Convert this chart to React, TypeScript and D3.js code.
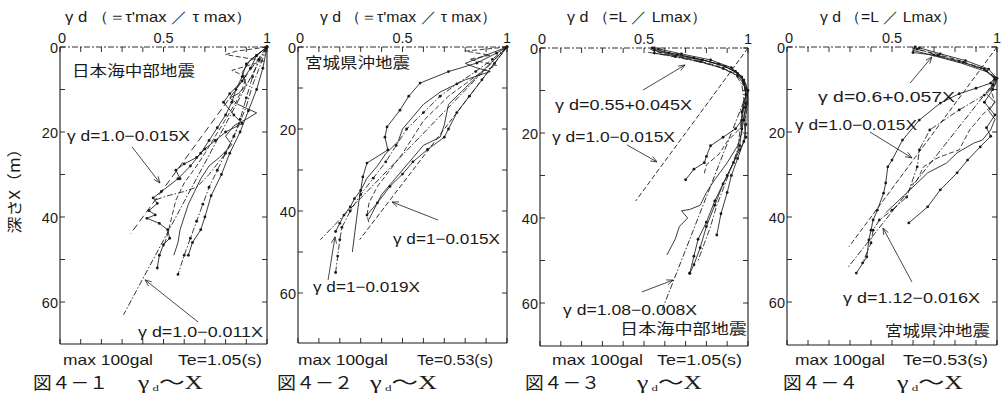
import React from "react";
import * as d3 from "d3";

type Pt = [number, number]; // [gamma_d, depth X (m)]

// ---------- DATA ----------
const xTickValues = [0, 0.1, 0.2, 0.3, 0.4, 0.5, 0.6, 0.7, 0.8, 0.9, 1];
const xTickLabels = ["0", "0.5", "1"];
const yTickValues = [0, 10, 20, 30, 40, 50, 60];
const yTickLabels = [0, 20, 40, 60];

// Fig 4-1 : Nihonkai-chubu, stress ratio
const p1_a: Pt[] = [[1,0],[0.95,2],[0.9,4],[0.88,7],[0.85,10],[0.83,13],[0.8,16],[0.76,19],[0.72,22],[0.68,25],[0.63,28],[0.57,31],[0.49,34],[0.45,35.5],[0.47,36.8],[0.43,38.5],[0.46,39.5],[0.42,40.3],[0.48,41.5],[0.52,43],[0.53,45],[0.5,46.5],[0.48,49],[0.47,52]];
const p1_b: Pt[] = [[1,0],[0.96,3],[0.93,7],[0.9,12],[0.87,17],[0.84,21],[0.8,25],[0.76,29],[0.72,33],[0.69,37],[0.66,41],[0.63,45],[0.6,49],[0.57,53.5]];
const p1_c: Pt[] = [[1,0],[0.92,3],[0.88,6],[0.9,9],[0.86,11],[0.82,12],[0.86,13.5],[0.95,15.5],[0.9,17],[0.84,18.5],[0.8,21],[0.83,23],[0.77,26],[0.72,28],[0.68,31],[0.65,34],[0.62,37],[0.6,40],[0.58,43],[0.57,46],[0.55,49]];
const p1_d: Pt[] = [[1,0],[0.85,1],[0.8,1.8],[0.9,2.6],[0.99,3.2],[0.92,4.2],[0.83,5.5],[0.9,7],[0.88,10],[0.85,13],[0.8,17],[0.75,21],[0.7,25],[0.66,28],[0.6,32],[0.56,36],[0.54,40],[0.52,44],[0.5,47]];
const p1_e: Pt[] = [[1,0],[0.95,2],[0.92,5],[0.88,8],[0.82,11],[0.79,13],[0.84,16],[0.88,18],[0.8,20],[0.75,22],[0.7,24],[0.66,26],[0.6,27.5],[0.56,29],[0.58,31]];
const p1_f: Pt[] = [[1,0],[0.97,4],[0.93,9],[0.9,14],[0.85,20],[0.8,25],[0.72,30],[0.66,33],[0.6,34],[0.52,35],[0.46,36]];
const p1_g: Pt[] = [[1,0],[0.98,5],[0.95,10],[0.91,15],[0.87,20],[0.82,25],[0.78,30],[0.73,35],[0.7,40],[0.68,43],[0.64,46],[0.62,49]];

// Fig 4-2 : Miyagiken-oki, stress ratio
const p2_a: Pt[] = [[1,0],[0.95,1.5],[0.856,3.9],[0.72,6],[0.584,8.8],[0.53,12],[0.488,15.4],[0.426,19.5],[0.416,22],[0.43,25.1],[0.33,28.3],[0.31,31.7],[0.3,35],[0.27,37],[0.25,39],[0.22,41],[0.2,43],[0.18,45]];
const p2_b: Pt[] = [[1,0],[0.93,3],[0.85,6],[0.76,9],[0.68,12],[0.6,16],[0.52,20],[0.47,24],[0.42,28],[0.36,32],[0.3,36],[0.25,40],[0.21,44],[0.2,47],[0.19,51],[0.18,55]];
const p2_c: Pt[] = [[1,0],[0.9,2],[0.8,4],[0.85,5],[0.92,6],[0.8,8],[0.68,11],[0.6,14],[0.55,17],[0.5,20],[0.48,23],[0.42,26],[0.38,29],[0.33,32],[0.3,35],[0.29,38],[0.28,42],[0.27,46],[0.26,50]];
const p2_d: Pt[] = [[1,0],[0.8,1],[0.92,2],[0.82,3],[0.95,4.5],[0.88,6],[0.8,9],[0.72,12],[0.66,15],[0.6,18],[0.55,22],[0.5,26],[0.44,30],[0.38,34],[0.34,38],[0.33,41],[0.34,43]];
const p2_e: Pt[] = [[1,0],[0.9,5],[0.8,10],[0.72,14],[0.7,19],[0.68,22],[0.6,24],[0.55,27],[0.5,30],[0.45,33],[0.4,36],[0.36,40],[0.34,42]];
const p2_f: Pt[] = [[1,0],[0.94,4],[0.88,8],[0.82,12],[0.76,16],[0.72,20],[0.7,22],[0.62,25],[0.55,28],[0.5,31],[0.44,34],[0.38,38],[0.33,41]];

// Fig 4-3 : Nihonkai-chubu, L / Lmax
const p3_a: Pt[] = [[0.55,0],[0.55,1.2],[0.65,2],[0.77,3.2],[0.88,4.8],[0.95,6.5],[0.98,8.5],[0.99,11],[0.98,14],[0.97,17],[0.94,19],[0.88,21],[0.82,23],[0.8,25.5],[0.79,27],[0.74,28.5],[0.7,31]];
const p3_b: Pt[] = [[0.53,0.3],[0.6,1.5],[0.72,2.5],[0.84,4],[0.93,5.8],[0.97,7.5],[0.99,10],[1,13],[0.99,16],[0.96,19],[0.9,22],[0.86,25],[0.8,27.5],[0.79,29.5]];
const p3_c: Pt[] = [[0.56,0.8],[0.66,1.8],[0.8,3],[0.9,4.5],[0.96,6.2],[0.99,8.5],[1,12],[0.98,16],[0.97,20],[0.95,23],[0.9,27],[0.84,31],[0.8,34],[0.77,37],[0.72,38],[0.68,38.3],[0.71,40],[0.67,42],[0.65,45],[0.61,48.7]];
const p3_d: Pt[] = [[0.54,0],[0.62,1.2],[0.74,2.3],[0.86,3.8],[0.94,5.5],[0.98,7.5],[1,10],[0.99,14],[0.99,18],[0.98,22],[0.95,26],[0.92,30],[0.9,34],[0.87,39],[0.85,44]];
const p3_e: Pt[] = [[0.55,0.5],[0.66,1.5],[0.78,2.8],[0.89,4.3],[0.95,6],[0.98,8],[0.99,11],[0.97,15],[0.97,19],[0.96,23],[0.93,27],[0.88,32],[0.84,37],[0.8,42],[0.77,47],[0.74,51],[0.72,53]];
const p3_f: Pt[] = [[0.52,1],[0.64,2],[0.76,3.2],[0.87,4.6],[0.94,6.3],[0.97,8.5],[0.98,12],[0.97,16],[0.96,20],[0.95,24],[0.92,28],[0.89,32],[0.85,37],[0.82,42],[0.79,46],[0.76,50]];
const p3_g: Pt[] = [[0.57,0.2],[0.68,1.4],[0.82,2.8],[0.92,4.6],[0.97,6.8],[0.99,9.5],[0.99,13],[0.98,17],[0.99,21],[0.96,24],[0.9,30],[0.84,36],[0.8,41],[0.76,45],[0.74,49],[0.72,53]];

// Fig 4-4 : Miyagiken-oki, L / Lmax
const p4_a: Pt[] = [[0.61,0],[0.6,1.3],[0.7,1.9],[0.82,3.4],[0.94,5.2],[0.99,7.2],[0.97,8.5],[0.9,9.7],[0.82,11],[0.73,13.2],[0.63,17.2],[0.55,21.9],[0.5,26.6],[0.48,28.2],[0.47,32],[0.46,34.4],[0.43,38.4],[0.41,40.7],[0.4,43.1],[0.39,45.4],[0.38,49.4],[0.33,53.2]];
const p4_b: Pt[] = [[0.62,0.5],[0.72,2],[0.84,3.6],[0.95,5.6],[0.99,7.6],[0.98,9],[0.94,11.3],[0.82,14.8],[0.68,19.5],[0.63,24.2],[0.62,28.2],[0.57,35.3],[0.5,38.4],[0.44,40.7],[0.41,43.1],[0.4,46.1],[0.36,50.8]];
const p4_c: Pt[] = [[0.6,0.8],[0.71,2.2],[0.83,3.8],[0.95,5.8],[1,7.8],[0.99,9],[0.95,11],[0.99,13],[0.96,15],[0.99,17],[0.97,19.5],[0.93,21.9],[0.89,22.6],[0.81,24.9],[0.76,27.3],[0.67,29.6],[0.62,32],[0.5,37.6],[0.47,39]];
const p4_d: Pt[] = [[0.63,0.2],[0.73,1.6],[0.85,3.2],[0.96,5.2],[1,7.4],[0.98,10],[0.94,13],[0.99,16],[0.95,19],[0.97,21],[0.92,23.5],[0.86,26.6],[0.81,29.6],[0.73,33.6],[0.67,37.6],[0.58,41.4]];
const p4_e: Pt[] = [[0.6,0.3],[0.7,1.5],[0.81,3],[0.93,5],[0.99,7],[0.97,10],[0.99,13],[0.93,16],[0.87,19.5],[0.82,24.2],[0.72,26],[0.65,28.2],[0.62,31.3],[0.58,33]];

// regression lines: gamma = a + b X over [from, to]
const fitLines1 = [{ a: 1.0, b: -0.015, from: 0, to: 44, kind: "dash" }, { a: 1.0, b: -0.011, from: 0, to: 63, kind: "dashdot" }];
const fitLines2 = [{ a: 1.0, b: -0.015, from: 0, to: 47, kind: "dash" }, { a: 1.0, b: -0.019, from: 0, to: 47, kind: "dashdot" }];
const fitLines3 = [{ a: 1.0, b: -0.015, from: 0, to: 36, kind: "dash" }, { a: 1.08, b: -0.008, from: 10, to: 62, kind: "dashdot" }];
const fitLines4 = [{ a: 1.0, b: -0.015, from: 0, to: 47, kind: "dash" }, { a: 1.12, b: -0.016, from: 7.5, to: 52, kind: "dashdot" }];

const titles = ["γ d （＝τ'max ／ τ max）", "γ d （＝τ'max ／ τ max）", "γ d （=L ／ Lmax）", "γ d （=L ／ Lmax）"];
const quakes = ["日本海中部地震", "宮城県沖地震", "日本海中部地震", "宮城県沖地震"];
const periods = ["Te=1.05(s)", "Te=0.53(s)", "Te=1.05(s)", "Te=0.53(s)"];
const figNos = ["図４－１", "図４－２", "図４－３", "図４－４"];

// ---------- STYLES / LAYOUT ----------
const dashes: Record<string, string> = { solid: "none", dash: "5,2.5", dashdot: "6,2,1.5,2", longdash: "7,4" };
const INK = "#1a1a1a";
const SANS = "'Liberation Sans', Arial, sans-serif";
const SERIF = "'Liberation Serif', 'Noto Sans CJK JP', serif";
const CJK = "'Noto Sans CJK JP', sans-serif";

type Series = { pts: Pt[]; kind: string; dots: boolean };
type Ann = { text: string; tx: number; ty: number; tw: number; arrow?: [Pt, Pt] };
type PanelCfg = {
  x0: number; x1: number; y0: number; y60: number; bottom: number;
  series: Series[]; fits: typeof fitLines1;
  anns: Ann[]; quakePos: [number, number, number];
  title: [number, number]; foot: { max: [number, number]; te: [number, number]; fig: [number, number]; g: [number, number] };
};

const panels: PanelCfg[] = [
  {
    x0: 60, x1: 267, y0: 47, y60: 302, bottom: 344,
    series: [
      { pts: p1_a, kind: "solid", dots: true }, { pts: p1_b, kind: "dashdot", dots: true },
      { pts: p1_c, kind: "solid", dots: false }, { pts: p1_d, kind: "dash", dots: false },
      { pts: p1_e, kind: "solid", dots: true }, { pts: p1_f, kind: "dashdot", dots: false },
      { pts: p1_g, kind: "solid", dots: true },
    ],
    fits: [{ ...fitLines1[0], kind: "longdash" }, fitLines1[1]],
    anns: [
      { text: "γ d=1.0−0.015X", tx: 67, ty: 141, tw: 123, arrow: [[0.348, 23.5], [0.483, 32]] },
      { text: "γ d=1.0−0.011X", tx: 138, ty: 337, tw: 125, arrow: [[0.667, 64.7], [0.411, 54.8]] },
    ],
    quakePos: [72, 76, 123],
    title: [65, 187],
    foot: { max: [63, 90], te: [178, 84], fig: [33, 75], g: [138, 65] },
  },
  {
    x0: 298, x1: 507, y0: 47, y60: 293, bottom: 343,
    series: [
      { pts: p2_a, kind: "solid", dots: true }, { pts: p2_b, kind: "dashdot", dots: true },
      { pts: p2_c, kind: "solid", dots: false }, { pts: p2_d, kind: "dash", dots: false },
      { pts: p2_e, kind: "solid", dots: false }, { pts: p2_f, kind: "solid", dots: true },
    ],
    fits: fitLines2,
    anns: [
      { text: "γ d=1−0.015X", tx: 393, ty: 244, tw: 107, arrow: [[0.67, 42.2], [0.45, 37.8]] },
      { text: "γ d=1−0.019X", tx: 313, ty: 292, tw: 107, arrow: [[0.144, 56.8], [0.177, 46.3]] },
    ],
    quakePos: [305, 68, 105],
    title: [320, 177],
    foot: { max: [298, 90], te: [417, 76], fig: [277, 76], g: [370, 67] },
  },
  {
    x0: 540, x1: 748, y0: 48, y60: 303, bottom: 346,
    series: [
      { pts: p3_a, kind: "solid", dots: true }, { pts: p3_b, kind: "dash", dots: false },
      { pts: p3_c, kind: "solid", dots: false }, { pts: p3_d, kind: "solid", dots: true },
      { pts: p3_e, kind: "solid", dots: true }, { pts: p3_f, kind: "dashdot", dots: false },
      { pts: p3_g, kind: "solid", dots: true },
    ],
    fits: fitLines3,
    anns: [
      { text: "γ d=0.55+0.045X", tx: 555, ty: 110, tw: 137, arrow: [[0.495, 9.9], [0.697, 4.0]] },
      { text: "γ d=1.0−0.015X", tx: 552, ty: 142, tw: 123, arrow: [[0.418, 22.8], [0.5625, 26.8]] },
      { text: "γ d=1.08−0.008X", tx: 563, ty: 315, tw: 134, arrow: [[0.49, 57.4], [0.64, 54.6]] },
    ],
    quakePos: [620, 334, 127],
    title: [567, 140],
    foot: { max: [552, 91], te: [657, 85], fig: [525, 75], g: [637, 65] },
  },
  {
    x0: 787, x1: 997, y0: 47, y60: 302, bottom: 345,
    series: [
      { pts: p4_a, kind: "solid", dots: true }, { pts: p4_b, kind: "dashdot", dots: true },
      { pts: p4_c, kind: "solid", dots: false }, { pts: p4_d, kind: "solid", dots: true },
      { pts: p4_e, kind: "dash", dots: false },
    ],
    fits: fitLines4,
    anns: [
      { text: "γ d=0.6+0.057X", tx: 818, ty: 102, tw: 137, arrow: [[0.586, 8.5], [0.69, 2.35]] },
      { text: "γ d=1.0−0.015X", tx: 795, ty: 130, tw: 122, arrow: [[0.395, 20], [0.595, 26.1]] },
      { text: "γ d=1.12−0.016X", tx: 843, ty: 303, tw: 137, arrow: [[0.595, 55.3], [0.457, 42.6]] },
    ],
    quakePos: [885, 336, 105],
    title: [820, 137],
    foot: { max: [795, 90], te: [903, 85], fig: [783, 75], g: [897, 66] },
  },
];

function Arrow({ a, b }: { a: [number, number]; b: [number, number] }) {
  const ang = Math.atan2(b[1] - a[1], b[0] - a[0]);
  const L = 7, spread = 0.38;
  const h1: [number, number] = [b[0] - L * Math.cos(ang - spread), b[1] - L * Math.sin(ang - spread)];
  const h2: [number, number] = [b[0] - L * Math.cos(ang + spread), b[1] - L * Math.sin(ang + spread)];
  return (
    <g stroke={INK} strokeWidth={0.8} fill="none">
      <line x1={a[0]} y1={a[1]} x2={b[0]} y2={b[1]} />
      <polyline points={`${h1[0]},${h1[1]} ${b[0]},${b[1]} ${h2[0]},${h2[1]}`} />
    </g>
  );
}

function Panel({ cfg, i }: { cfg: PanelCfg; i: number }) {
  const x = d3.scaleLinear().domain([0, 1]).range([cfg.x0, cfg.x1]);
  const y = d3.scaleLinear().domain([0, 60]).range([cfg.y0, cfg.y60]);
  const line = d3.line<Pt>().x((d) => x(d[0])).y((d) => y(d[1]));
  const tick = 5;
  const yMax = y.invert(cfg.bottom);
  return (
    <g>
      {/* frame */}
      <line x1={cfg.x0} y1={cfg.y0} x2={cfg.x1} y2={cfg.y0} stroke={INK} strokeWidth={0.9} strokeDasharray="6,2,2,2" />
      <line x1={cfg.x0} y1={cfg.y0} x2={cfg.x0} y2={cfg.bottom} stroke={INK} strokeWidth={1.1} />
      <line x1={cfg.x1} y1={cfg.y0} x2={cfg.x1} y2={cfg.bottom} stroke={INK} strokeWidth={1.1} />
      <line x1={cfg.x0} y1={cfg.bottom} x2={cfg.x1} y2={cfg.bottom} stroke={INK} strokeWidth={1.1} />
      {xTickValues.map((v) => (
        <g key={"xt" + v} stroke={INK} strokeWidth={0.9}>
          <line x1={x(v)} x2={x(v)} y1={cfg.y0} y2={cfg.y0 + tick} />
          <line x1={x(v)} x2={x(v)} y1={cfg.bottom} y2={cfg.bottom - tick} />
        </g>
      ))}
      {yTickValues.filter((v) => v <= yMax).map((v) => (
        <g key={"yt" + v} stroke={INK} strokeWidth={0.9}>
          <line x1={cfg.x0} x2={cfg.x0 + tick} y1={y(v)} y2={y(v)} />
          <line x1={cfg.x1} x2={cfg.x1 - tick} y1={y(v)} y2={y(v)} />
        </g>
      ))}
      {/* tick labels */}
      <g fontFamily={SANS} fontSize={14.5} fill={INK}>
        {xTickLabels.map((t) => (
          <text key={"xl" + t} x={x(+t) + (+t === 0 ? 2 : 0)} y={cfg.y0 - 4} textAnchor="middle">{t}</text>
        ))}
        {yTickLabels.map((v) => (
          <text key={"yl" + v} x={cfg.x0 - 2} y={y(v) + 5.5} textAnchor="end">{v}</text>
        ))}
      </g>
      {/* fit lines */}
      {cfg.fits.map((f, k) => (
        <path key={"f" + k}
          d={line([[f.a + f.b * f.from, f.from], [f.a + f.b * f.to, f.to]]) || ""}
          stroke={INK} strokeWidth={0.9} fill="none" strokeDasharray={dashes[f.kind]} />
      ))}
      {/* data series */}
      {cfg.series.map((s, k) => (
        <g key={"s" + k}>
          <path d={line(s.pts) || ""} stroke={INK} strokeWidth={0.85} fill="none" strokeDasharray={dashes[s.kind]} strokeLinejoin="round" />
          {s.dots && s.pts.map((p, j) => <circle key={j} cx={x(p[0])} cy={y(p[1])} r={1.4} fill={INK} />)}
        </g>
      ))}
      {/* annotations */}
      {cfg.anns.map((a, k) => (
        <g key={"a" + k}>
          <text x={a.tx} y={a.ty} fontFamily={SANS} fontSize={15} fill={INK} textLength={a.tw} lengthAdjust="spacingAndGlyphs">{a.text}</text>
          {a.arrow && <Arrow a={[x(a.arrow[0][0]), y(a.arrow[0][1])]} b={[x(a.arrow[1][0]), y(a.arrow[1][1])]} />}
        </g>
      ))}
      <text x={cfg.quakePos[0]} y={cfg.quakePos[1]} fontFamily={CJK} fontSize={15} fill={INK} textLength={cfg.quakePos[2]} lengthAdjust="spacingAndGlyphs">{quakes[i]}</text>
      {/* title */}
      <text x={cfg.title[0]} y={22} fontFamily={SANS} fontSize={15} fill={INK} textLength={cfg.title[1]} lengthAdjust="spacingAndGlyphs">{titles[i]}</text>
      {/* footer */}
      <text x={cfg.foot.max[0]} y={365} fontFamily={SANS} fontSize={15} fill={INK} textLength={cfg.foot.max[1]} lengthAdjust="spacingAndGlyphs">max 100gal</text>
      <text x={cfg.foot.te[0]} y={365} fontFamily={SANS} fontSize={15} fill={INK} textLength={cfg.foot.te[1]} lengthAdjust="spacingAndGlyphs">{periods[i]}</text>
      <text x={cfg.foot.fig[0]} y={389} fontFamily={SERIF} fontSize={17} fill={INK} textLength={cfg.foot.fig[1]} lengthAdjust="spacingAndGlyphs">{figNos[i]}</text>
      <text x={cfg.foot.g[0]} y={389} fontFamily={SERIF} fontSize={18} fill={INK} textLength={cfg.foot.g[1]} lengthAdjust="spacingAndGlyphs">
        <tspan>γ</tspan><tspan fontSize={9} dy={2}> d</tspan><tspan dy={-2}>～X</tspan>
      </text>
    </g>
  );
}

export default function App() {
  return (
    <svg width={1001} height={394} viewBox="0 0 1001 394" style={{ position: "absolute", left: 0, top: 0, background: "#fff" }}>
      <rect width={1001} height={394} fill="#fff" />
      {panels.map((p, i) => <Panel key={i} cfg={p} i={i} />)}
      <text transform="translate(20,187) rotate(-90)" textAnchor="middle" fontFamily={CJK} fontSize={15} fill={INK} textLength={93} lengthAdjust="spacingAndGlyphs">深さX（m）</text>
    </svg>
  );
}
